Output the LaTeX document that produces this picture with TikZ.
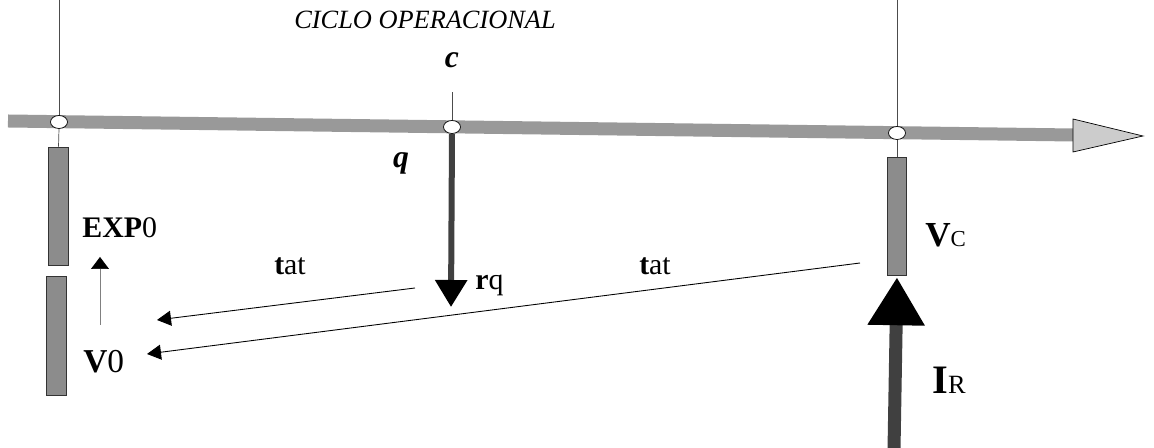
\documentclass[tikz,border=0pt]{standalone}
\usepackage{fontspec}
\setmainfont{Liberation Serif}
\usetikzlibrary{arrows.meta,shapes.geometric}

\tikzset{
  barre/.style={draw=black!80,fill=black!45,minimum width=0.39cm,inner sep=0pt,line width=0.3pt},
  noeud/.style={ellipse,draw,fill=white,minimum width=0.34cm,minimum height=0.26cm,inner sep=0pt},
  fil/.style={black!70,line width=0.4pt},
  grand/.style={font=\fontsize{17}{20}\selectfont,inner sep=0pt},
  fleche/.style={-{Triangle[width=0.3cm,length=0.28cm]},line width=0.5pt},
}

\begin{document}
\begin{tikzpicture}[x=0.02cm,y=-0.02cm]
    \useasboundingbox (0,0) rectangle (1154,448);

    % Axe du cycle
    \draw[black!40,line width=0.26cm] (8,121) -- (1073,135);
    \draw[fill=black!20,line width=0.4pt] (1073,119) -- (1143,136) -- (1073,152) -- cycle;

    % Noeuds sur l'axe
    \node[noeud] (k0) at (59,122) {};
    \node[noeud] (kq) at (452,127) {};
    \node[noeud] (kc) at (897,133) {};

    % Barres
    \node[barre,minimum height=2.36cm] (b0) at (58.5,206) {};
    \node[barre,minimum height=2.38cm,minimum width=0.4cm] (b1) at (56,335.5) {};
    \node[barre,minimum height=2.36cm] (bc) at (897,216) {};

    % Traits verticaux
    \coordinate (h0) at (59,0);
    \coordinate (hq) at (452,92);
    \coordinate (hc) at (897,0);
    \draw[fil] (k0.north) -- (h0);
    \draw[fil] (k0.south) -- (b0.north);
    \draw[fil] (kq.north) -- (hq);
    \draw[fil] (kc.north) -- (hc);
    \draw[fil] (kc.south) -- (bc.north);

    % Textes
    \node[font=\fontsize{15}{18}\selectfont\itshape] (titre) at (425,20) {CICLO OPERACIONAL};
    \node[grand,font=\fontsize{18}{20}\selectfont\bfseries\itshape] (c) at (452,60) {c};
    \node[grand,font=\fontsize{18}{20}\selectfont\bfseries\itshape,anchor=base] (q) at (401,168) {q};
    \node[grand,anchor=base west] (exp) at (82,238) {\textbf{EXP}0};
    \node[grand,font=\fontsize{19}{22}\selectfont,anchor=base west] (v0) at (83,373) {\textbf{V}0};
    \node[grand,anchor=base west] (rq) at (475,290) {\textbf{r}q};
    \node[grand,anchor=base] (tat1) at (290,275) {\textbf{t}at};
    \node[grand,anchor=base] (tat2) at (655,275) {\textbf{t}at};
    \node[grand,font=\fontsize{20}{22}\selectfont,anchor=base west] (vc) at (925,247) {\textbf{V}{\fontsize{13}{15}\selectfont C}};
    \node[grand,font=\fontsize{23}{26}\selectfont,anchor=base west] (ir) at (932,394) {\textbf{I}{\fontsize{15}{17}\selectfont R}};

    % Fleche rq
    \coordinate (pq) at (451,307);
    \draw[black!75,line width=0.12cm,-{Triangle[width=0.62cm,length=0.54cm,color=black,fill=black]}] (kq.south) -- (pq);

    % Fleche IR
    \coordinate (ir0) at (894,450);
    \draw[black!75,line width=0.26cm,shorten >=0.04cm,-{Triangle[width=1.08cm,length=0.96cm,color=black,fill=black]}] (ir0) -- (bc.south);

    % Fleches tat
    \coordinate (t1a) at (415,288);
    \coordinate (t1b) at (157,320);
    \coordinate (t2a) at (860,263);
    \coordinate (t2b) at (147,354);
    \draw[fleche] (t1a) -- (t1b);
    \draw[fleche] (t2a) -- (t2b);

    % Fleche V0 vers EXP0
    \coordinate (a0) at (100,325);
    \coordinate (a1) at (100,257);
    \draw[black!50,line width=0.4pt,-{Triangle[width=0.36cm,length=0.24cm,color=black,fill=black]}] (a0) -- (a1);
\end{tikzpicture}
\end{document}
